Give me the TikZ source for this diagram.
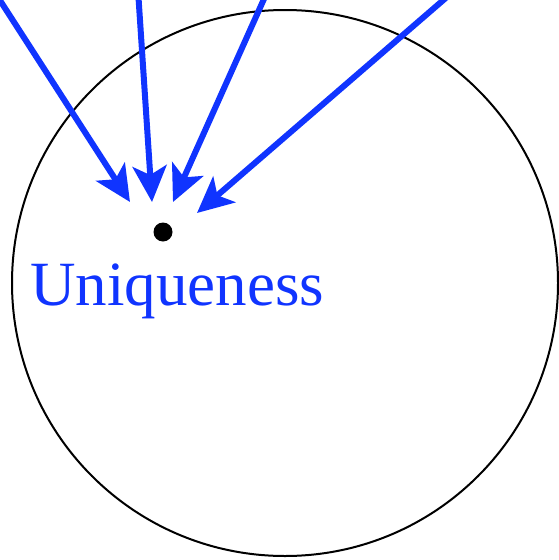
\documentclass[tikz,border=0pt]{standalone}
\usepackage{fontspec}
\setmainfont{Liberation Serif}
\usetikzlibrary{arrows.meta}
\definecolor{ublue}{RGB}{16,52,255}
\begin{document}
\begin{tikzpicture}[x=1pt,y=-1pt,
  arr/.style={draw=ublue,line width=6pt,-{Stealth[length=36pt,width=34pt,inset=9pt]}},
  lbl/.style={text=ublue,font=\fontsize{63pt}{70pt}\selectfont,inner sep=0pt,anchor=base west}]
\useasboundingbox (0,0) rectangle (558,560);
\draw[line width=2pt] (285,283) circle (273);
\node[circle,fill=black,minimum size=19pt,inner sep=0pt] (dot) at (163,232) {};
\node[lbl] (u) at (30,305) {Uniqueness};
\coordinate (s1) at (-8,-12);
\coordinate (e1) at (130,202);
\coordinate (s2) at (138,-10);
\coordinate (e2) at (152,202);
\coordinate (s3) at (268,-10);
\coordinate (e3) at (173,202);
\coordinate (s4) at (455,-10);
\coordinate (e4) at (197,213);
\draw[arr] (s1) -- (e1);
\draw[arr] (s2) -- (e2);
\draw[arr] (s3) -- (e3);
\draw[arr] (s4) -- (e4);
\end{tikzpicture}
\end{document}
